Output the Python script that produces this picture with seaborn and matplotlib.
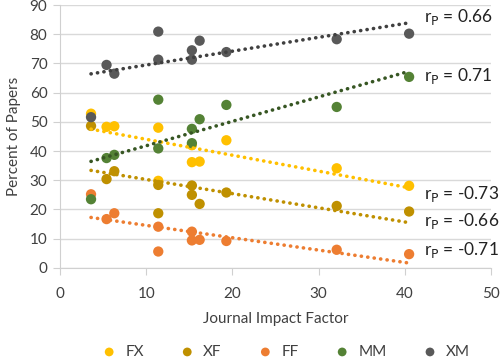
import numpy as np
import pandas as pd
import matplotlib
matplotlib.use("Agg")
import matplotlib.pyplot as plt
import seaborn as sns

# journal impact factors (one entry per journal)
impact = [3.6, 5.4, 6.3, 11.4, 11.4, 15.3, 15.3, 16.2, 19.3, 32.1, 40.5]

# percent of papers per author-gender category
fx = [52.8, 48.3, 48.5, 48.0, 29.8, 42.0, 36.2, 36.4, 43.7, 34.1, 28.1]
xf = [48.6, 30.4, 33.1, 18.7, 28.4, 28.2, 25.0, 21.9, 25.8, 21.2, 19.3]
ff = [25.2, 16.7, 18.7, 14.1, 5.6, 12.4, 9.4, 9.6, 9.2, 6.2, 4.7]
mm = [23.5, 37.6, 38.7, 57.6, 40.9, 47.6, 42.7, 50.9, 55.8, 55.1, 65.4]
xm = [51.6, 69.5, 66.5, 80.9, 71.3, 74.5, 71.3, 77.8, 73.9, 78.3, 80.2]

series = ["FX", "XF", "FF", "MM", "XM"]
values = [fx, xf, ff, mm, xm]
dot_colors = ["#FFC000", "#BF9000", "#ED7D31", "#548235", "#595959"]
line_colors = ["#FFC000", "#BF9000", "#ED7D31", "#375623", "#404040"]

r_labels = ["-0.73", "-0.66", "-0.71", "0.71", "0.66"]
r_label_y = [25.2, 16.0, 6.2, 65.6, 86.0]

df = pd.DataFrame({
    "impact": impact * len(series),
    "percent": sum(values, []),
    "group": np.repeat(series, len(impact)),
})

sns.set_style("white")
plt.rcParams["font.family"] = ["Lato", "DejaVu Sans"]

fig = plt.figure(figsize=(5.0, 3.61), dpi=100)
ax = fig.add_axes([0.12, 0.258, 0.862, 0.728])

for name, dc in zip(series, dot_colors):
    sub = df[df["group"] == name]
    sns.scatterplot(data=sub, x="impact", y="percent", color=dc, s=55,
                    edgecolor="none", ax=ax, label=name, zorder=3)

for name, lc in zip(series, line_colors):
    sub = df[df["group"] == name]
    sns.regplot(data=sub, x="impact", y="percent", scatter=False, ci=None,
                truncate=True, ax=ax,
                line_kws={"color": lc, "lw": 2.6, "ls": (0, (0.05, 1.75)),
                          "dash_capstyle": "round", "zorder": 4})

for lab, yy in zip(r_labels, r_label_y):
    ax.text(42.2, yy, r"r$_\mathrm{P}$ = " + lab, fontsize=12.5,
            va="center", ha="left", color="#222222")

ax.set_xlim(0, 50)
ax.set_ylim(0, 90)
ax.set_xticks(range(0, 51, 10))
ax.set_yticks(range(0, 91, 10))
ax.yaxis.grid(True, color="#D9D9D9", lw=1)
ax.xaxis.grid(False)
for side in ["top", "right"]:
    ax.spines[side].set_visible(False)
for side in ["left", "bottom"]:
    ax.spines[side].set_color("#D0D0D0")
ax.tick_params(axis="both", length=5, color="#D0D0D0", labelsize=11,
               labelcolor="#404040", direction="out", left=True, bottom=True)
ax.tick_params(axis="x", pad=9)
ax.tick_params(axis="y", pad=4)
ax.set_xlabel("Journal Impact Factor", fontsize=11, color="#404040", labelpad=8)
ax.set_ylabel("Percent of Papers", fontsize=11, color="#404040", labelpad=6)

ax.legend(loc="center", bbox_to_anchor=(0.515, -0.32), ncol=5,
          frameon=False, fontsize=11, markerscale=0.85, handletextpad=0.05,
          columnspacing=1.85, labelcolor="#404040")

fig.savefig("out.png", dpi=100)
